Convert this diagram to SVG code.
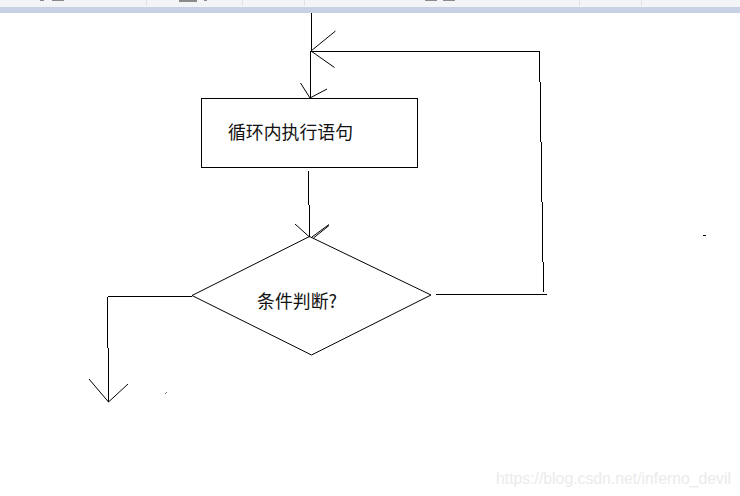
<svg xmlns="http://www.w3.org/2000/svg" width="740" height="496" viewBox="0 0 740 496">
<style>
.l{fill:none;stroke:#000;stroke-width:1;shape-rendering:crispEdges}
.h{fill:none;stroke:#000;stroke-width:1}
.b{fill:none;stroke:#000;stroke-width:1.2;shape-rendering:crispEdges}
.t{font-family:"Noto Sans CJK SC","Liberation Sans",sans-serif;font-size:18px;fill:#111}
.tick{fill:#dfe1e5}
.frag{fill:#8a8a8a}
</style>
<rect width="740" height="496" fill="#fff"/>
<g id="toolbar">
<rect width="740" height="7" fill="#f3f4f6"/>
<rect y="7" width="740" height="6" fill="#c7d1e3"/>
<rect class="tick" x="146" width="1" height="6"/><rect class="tick" x="242" width="1" height="6"/><rect class="tick" x="304" width="1" height="6"/><rect class="tick" x="579" width="1" height="6"/><rect class="tick" x="641" width="1" height="6"/>
<rect class="frag" x="40" y="0" width="4" height="1"/><rect class="frag" x="52" y="0" width="12" height="1"/>
<rect class="frag" x="179" y="0" width="18" height="2"/><rect class="frag" x="204" y="0" width="3" height="1"/>
<rect class="frag" x="425" y="0" width="12" height="1"/><rect class="frag" x="443" y="0" width="12" height="1"/>
</g>
<g id="connectors">
<path class="l" d="M311.5 13V51"/>
<path class="l" d="M310.5 51V98"/>
<path class="h" d="M335.500 31L311 51L334.500 67.500"/>
<path class="h" d="M300.500 83L310 98L327 89"/>
<path class="b" d="M311 51.500H539.500V82"/>
<path class="b" d="M540.500 82V142"/>
<path class="b" d="M541.500 142V202"/>
<path class="b" d="M542.500 202V262"/>
<path class="b" d="M543.500 262V292"/>
<path class="b" d="M436 294.500H547"/>
<path class="b" d="M308.500 171V205"/>
<path class="b" d="M309.500 205V237"/>
<path class="h" d="M295 224L309.500 237"/>
<path class="h" d="M312 237L329 224.500M313.500 238L329 225.500"/>
<path class="b" d="M192 296.500H108"/>
<path class="b" d="M107.500 296.500V348"/>
<path class="b" d="M108.500 348V402"/>
<path class="h" d="M89 379L108.500 402L128 384"/>
</g>
<g id="node-loop-body">
<rect x="201.500" y="98.500" width="216" height="69" fill="none" stroke="#000" stroke-width="1.200" shape-rendering="crispEdges"/>
<text class="t" x="228" y="139" textLength="125" lengthAdjust="spacingAndGlyphs">循环内执行语句</text>
</g>
<g id="node-condition">
<path d="M309.500 236.500L431 295L311.500 355L192 295.500Z" fill="none" stroke="#000" stroke-width="1"/>
<text class="t" x="257" y="307.500" textLength="80" lengthAdjust="spacingAndGlyphs">条件判断?</text>
</g>
<path class="h" d="M165.500 393.500L166.500 392.500"/>
<path class="l" d="M703 235.500H706"/>
<text x="496" y="484" font-family="Liberation Sans, Arial, sans-serif" font-size="16" fill="#ebebeb" textLength="235" lengthAdjust="spacingAndGlyphs">https://blog.csdn.net/inferno_devil</text>
</svg>
